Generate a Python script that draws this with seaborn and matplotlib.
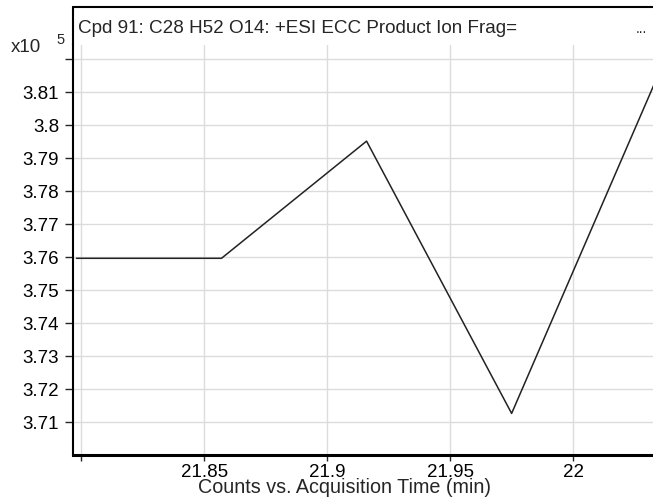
import matplotlib
matplotlib.use("Agg")
import matplotlib.pyplot as plt
import seaborn as sns
import pandas as pd
from matplotlib.lines import Line2D

# acquisition time (min) and counts (x10^5)
times = [21.798, 21.857, 21.916, 21.975, 22.034]
counts = [3.7597, 3.7597, 3.7952, 3.7127, 3.8142]

ytick_vals = [3.71, 3.72, 3.73, 3.74, 3.75, 3.76, 3.77, 3.78, 3.79, 3.80, 3.81, 3.82]
ytick_labels = ["3.71", "3.72", "3.73", "3.74", "3.75", "3.76", "3.77", "3.78", "3.79", "3.8", "3.81", ""]
xtick_vals = [21.80, 21.85, 21.90, 21.95, 22.00]
xtick_labels = ["", "21.85", "21.9", "21.95", "22"]

title = "Cpd 91: C28 H52 O14: +ESI ECC Product Ion Frag="
xlabel = "Counts vs. Acquisition Time (min)"

df = pd.DataFrame({"time": times, "counts": counts})

sns.set_style("white")
plt.rcParams["font.family"] = ["Liberation Sans", "DejaVu Sans"]

W, H = 653, 498
fig = plt.figure(figsize=(W / 100, H / 100), dpi=100)
# plot area in pixels: x 73..653, y 45..455
ax = fig.add_axes([73 / W, (H - 455) / H, (653 - 73) / W, (455 - 45) / H])

sns.lineplot(data=df, x="time", y="counts", ax=ax, color="#222222", linewidth=1.1)

ax.set_xlim(21.7966, 22.0325)
ax.set_ylim(3.7001, 3.82433)

ax.set_yticks(ytick_vals)
ax.set_yticklabels(ytick_labels)
ax.set_xticks(xtick_vals)
ax.set_xticklabels(xtick_labels)

ax.grid(True, color="#dcdcdc", linewidth=1.0)
ax.set_axisbelow(True)

for side in ["top", "right"]:
    ax.spines[side].set_visible(False)
ax.spines["left"].set_color("black")
ax.spines["left"].set_linewidth(1.5)
ax.spines["bottom"].set_color("black")
ax.spines["bottom"].set_linewidth(2.2)

ax.tick_params(axis="y", direction="out", length=6, width=1, labelsize=13.5, pad=4, left=True,
               labelcolor="black")
ax.tick_params(axis="x", direction="out", length=4, width=1, labelsize=13.5, pad=2.5, bottom=True,
               labelcolor="black")

ax.set_xlabel("")
ax.set_ylabel("")
fig.text(345 / W, (H - 492.5) / H, xlabel, fontsize=14.2, va="baseline", ha="center")

# title band above the plot area
fig.add_artist(Line2D([73 / W, 73 / W], [(H - 45) / H, (H - 7) / H], color="black", linewidth=1.5))
fig.add_artist(Line2D([73 / W, 1.0], [(H - 7) / H, (H - 7) / H], color="black", linewidth=1.5))
fig.text(78 / W, (H - 33) / H, title, fontsize=13.6, va="baseline", ha="left")
fig.text(641 / W, (H - 33) / H, "...", fontsize=10, va="baseline", ha="center")

fig.text(11 / W, (H - 52.5) / H, "x10", fontsize=13.5, va="baseline", ha="left")
fig.text(56 / W, (H - 40.5) / H, "5", fontsize=10.5, va="center", ha="left")

fig.savefig("out.png", dpi=100)
